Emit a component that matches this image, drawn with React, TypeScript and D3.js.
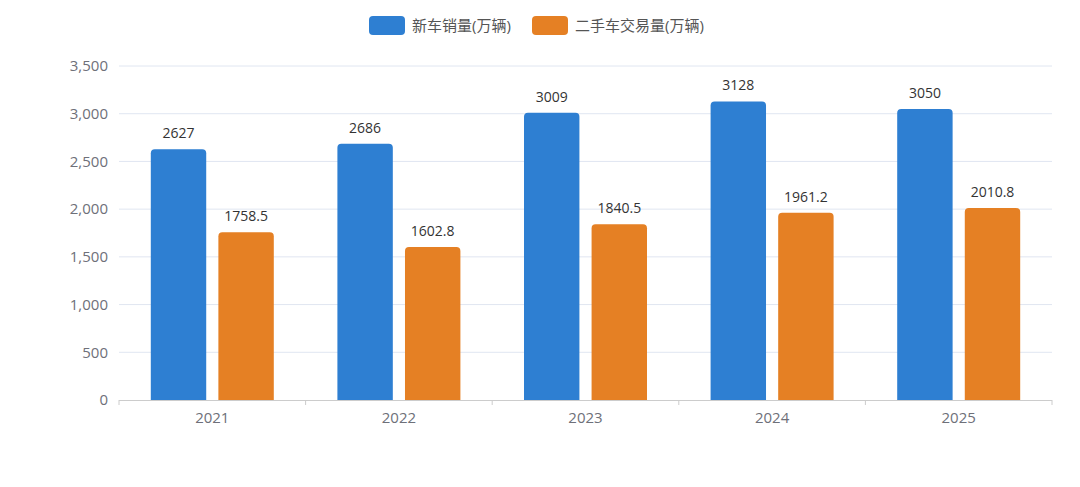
import * as d3 from 'd3';
import { useRef, useEffect } from 'react';

const years = ['2021', '2022', '2023', '2024', '2025'];
const newCarSales = [2627, 2686, 3009, 3128, 3050];
const usedCarTrades = [1758.5, 1602.8, 1840.5, 1961.2, 2010.8];
const seriesNames = ['新车销量(万辆)', '二手车交易量(万辆)'];
const colors = ['#2e7fd2', '#e58024'];
const yTicks = [0, 500, 1000, 1500, 2000, 2500, 3000, 3500];

const W = 1080;
const H = 487;
const FONT = '"Open Sans", "Noto Sans CJK SC", sans-serif';

// path for a bar with rounded top corners only
const barPath = (x: number, y: number, w: number, h: number, r: number) => {
    const rr = Math.min(r, h, w / 2);
    return `M${x},${y + h}V${y + rr}Q${x},${y} ${x + rr},${y}H${x + w - rr}Q${x + w},${y} ${x + w},${y + rr}V${y + h}Z`;
};

const App = () => {
    const svgRef = useRef<SVGSVGElement>(null);

    useEffect(() => {
        if (!svgRef.current) return;
        const svg = d3.select(svgRef.current);
        svg.selectAll('*').remove();

        const margin = { top: 66, right: 28, bottom: 87, left: 119 };
        const width = W - margin.left - margin.right;
        const height = H - margin.top - margin.bottom;

        const g = svg.append('g').attr('transform', `translate(${margin.left},${margin.top})`);

        const x0 = d3.scaleBand().domain(years).range([0, width]).paddingInner(0).paddingOuter(0);
        const groupW = 123;
        const x1 = d3.scaleBand().domain(seriesNames).range([0, groupW]).paddingInner(0.18);
        const y = d3.scaleLinear().domain([0, 3500]).range([height, 0]);

        // grid lines
        g.selectAll('.grid')
            .data(yTicks.slice(1))
            .enter()
            .append('line')
            .attr('x1', 0)
            .attr('x2', width)
            .attr('y1', d => y(d))
            .attr('y2', d => y(d))
            .attr('stroke', '#e0e6f1')
            .attr('stroke-width', 1);

        // y labels
        g.selectAll('.ylab')
            .data(yTicks)
            .enter()
            .append('text')
            .attr('x', -11)
            .attr('y', d => y(d))
            .attr('dy', '0.35em')
            .attr('text-anchor', 'end')
            .attr('font-size', 15)
            .attr('fill', '#6e7079')
            .attr('font-family', FONT)
            .text(d => d3.format(',')(d));

        const series = [newCarSales, usedCarTrades];
        const offset = (x0.bandwidth() - groupW) / 2;

        series.forEach((vals, si) => {
            const name = seriesNames[si];
            g.selectAll(`.bar${si}`)
                .data(vals)
                .enter()
                .append('path')
                .attr('d', (d, i) => {
                    const bx = (x0(years[i]) || 0) + offset + (x1(name) || 0);
                    return barPath(bx, y(d), x1.bandwidth(), height - y(d), 4);
                })
                .attr('fill', colors[si]);

            g.selectAll(`.lab${si}`)
                .data(vals)
                .enter()
                .append('text')
                .attr('x', (d, i) => (x0(years[i]) || 0) + offset + (x1(name) || 0) + x1.bandwidth() / 2)
                .attr('y', d => y(d) - 11)
                .attr('text-anchor', 'middle')
                .attr('font-size', 14)
                .attr('fill', '#333')
                .attr('font-family', FONT)
                .text(d => String(d));
        });

        // x axis
        g.append('line')
            .attr('x1', 0).attr('x2', width)
            .attr('y1', height + 0.5).attr('y2', height + 0.5)
            .attr('stroke', '#ccc');
        g.selectAll('.xtick')
            .data(d3.range(years.length + 1))
            .enter()
            .append('line')
            .attr('x1', i => i * x0.bandwidth())
            .attr('x2', i => i * x0.bandwidth())
            .attr('y1', height)
            .attr('y2', height + 5)
            .attr('stroke', '#ccc');
        g.selectAll('.xlab')
            .data(years)
            .enter()
            .append('text')
            .attr('x', d => (x0(d) || 0) + x0.bandwidth() / 2)
            .attr('y', height + 23)
            .attr('text-anchor', 'middle')
            .attr('font-size', 15)
            .attr('fill', '#6e7079')
            .attr('font-family', FONT)
            .text(d => d);

        // legend
        const legend = svg.append('g');
        const legendX = [369, 532];
        seriesNames.forEach((name, i) => {
            legend.append('rect')
                .attr('x', legendX[i])
                .attr('y', 16)
                .attr('width', 36)
                .attr('height', 19)
                .attr('rx', 4)
                .attr('fill', colors[i]);
            legend.append('text')
                .attr('x', legendX[i] + 43)
                .attr('y', 25.5)
                .attr('dy', '0.35em')
                .attr('font-size', 15)
                .attr('fill', '#555')
                .attr('font-family', FONT)
                .text(name);
        });
    }, []);

    return <svg ref={svgRef} width={W} height={H} style={{ display: 'block', position: 'absolute', left: 0, top: 0 }} />;
};

export default App;
